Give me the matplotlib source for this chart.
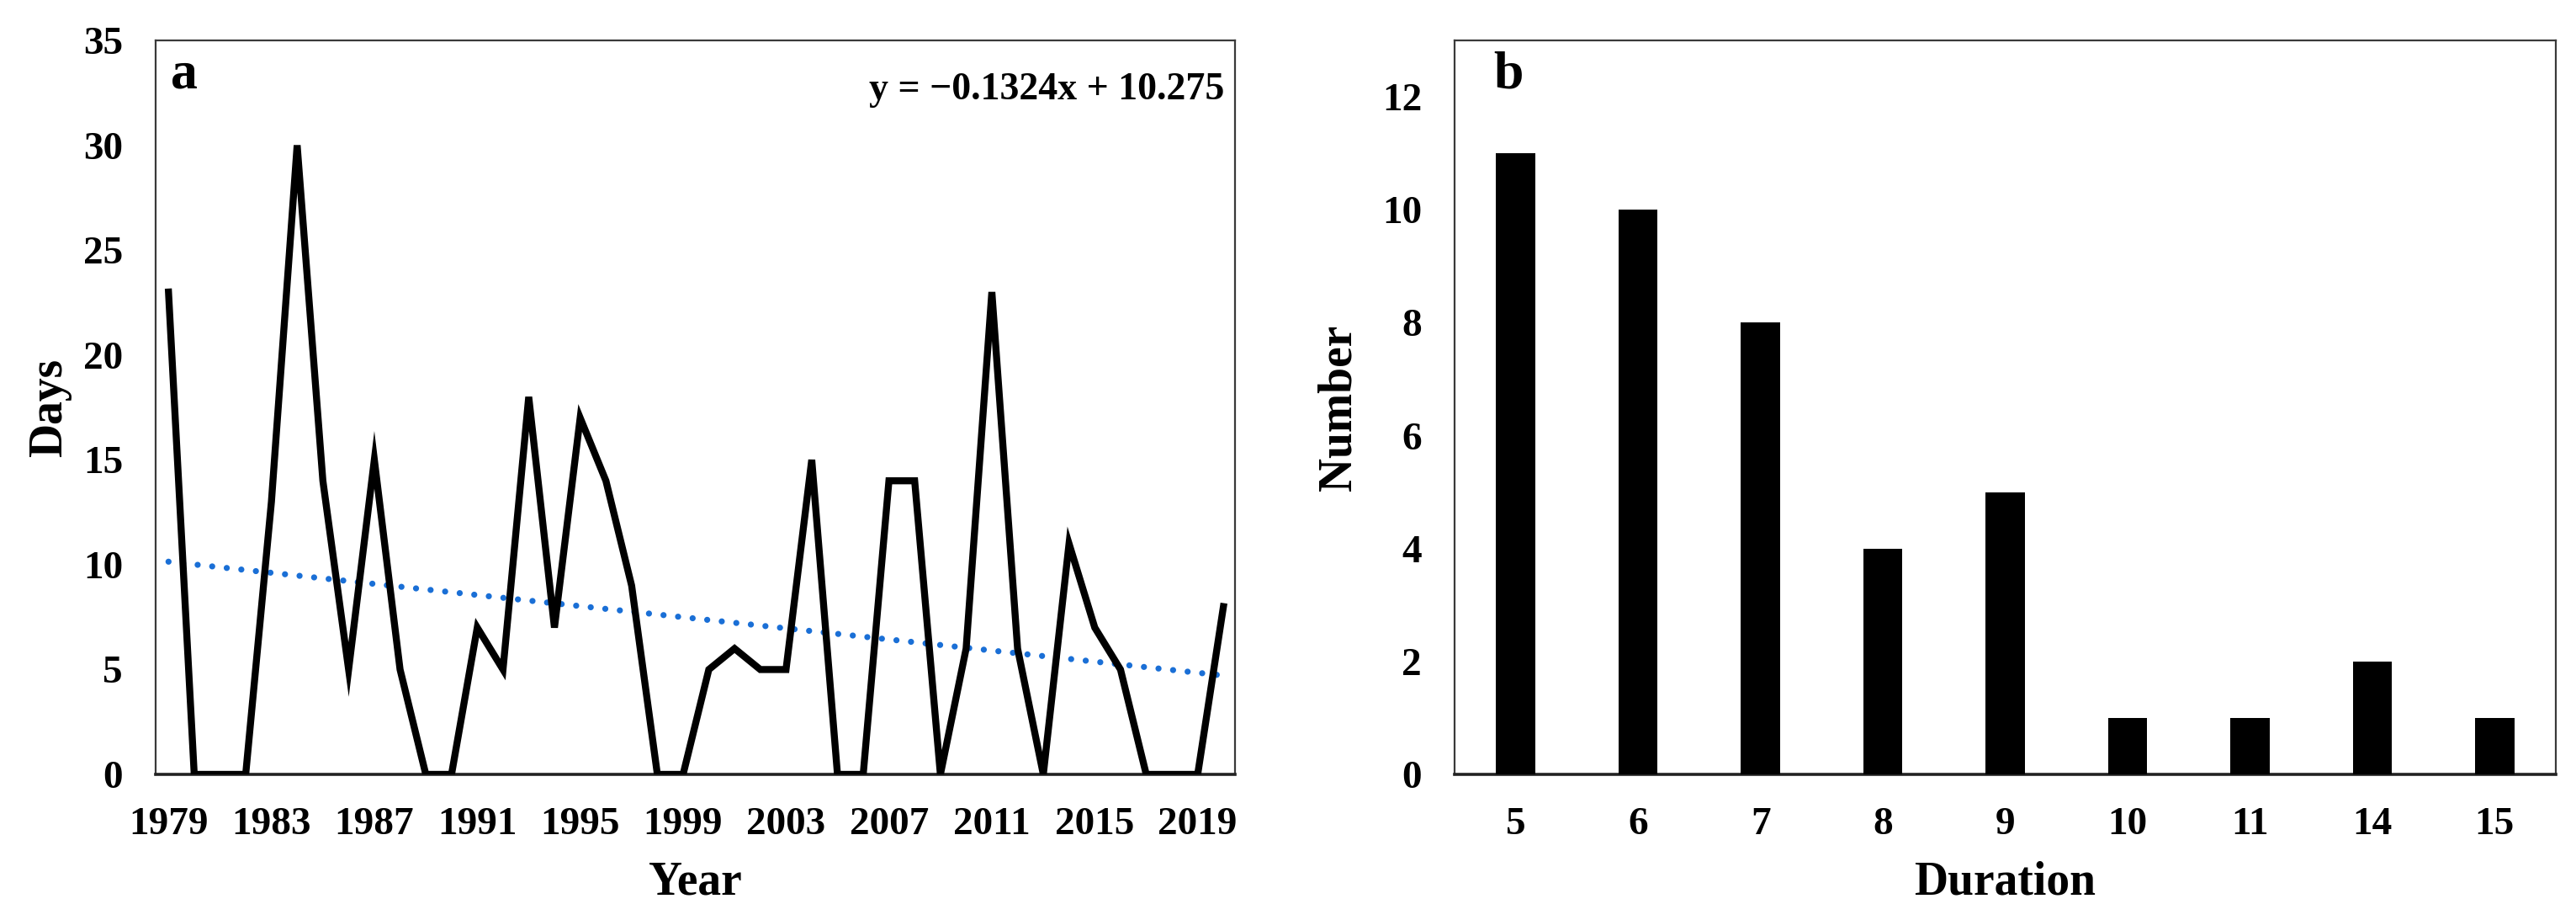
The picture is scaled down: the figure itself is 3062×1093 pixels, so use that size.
import numpy as np
import matplotlib
matplotlib.use("Agg")
import matplotlib.pyplot as plt

plt.rcParams['font.family'] = ['Liberation Serif', 'DejaVu Serif']
plt.rcParams['font.weight'] = 'bold'

# panel a: days per year
years = list(range(1979, 2021))
days = [23, 0, 0, 0, 13, 30, 14, 5, 15, 5,
        0, 0, 7, 5, 18, 7, 17, 14, 9, 0,
        0, 5, 6, 5, 5, 15, 0, 0, 14, 14,
        0, 6, 23, 6, 0, 11, 7, 5, 0, 0,
        0, 8]
trend_slope = -0.1324
trend_icept = 10.275
year_ticks = list(range(1979, 2020, 4))

# panel b: duration counts
durations = ['5', '6', '7', '8', '9', '10', '11', '14', '15']
counts = [11, 10, 8, 4, 5, 1, 1, 2, 1]

W, H = 3062, 1093
fig = plt.figure(figsize=(W / 100, H / 100), dpi=100)

ax1 = fig.add_axes([185 / W, 1 - 920 / H, (1468 - 185) / W, (920 - 48) / H])
ax2 = fig.add_axes([1729 / W, 1 - 920 / H, (3038 - 1729) / W, (920 - 48) / H])

tick_fs = 34
label_fs = 40
spine_col = '#3a3a3a'

# --- panel a ---
ax1.plot(years, days, color='black', lw=6, solid_joinstyle='miter', zorder=3)
idx = np.arange(1, len(years) + 1)
ax1.plot(years, trend_slope * idx + trend_icept, color='#1a6fd6', lw=5.2,
         linestyle=(0, (0.01, 2.4)), dash_capstyle='round', zorder=2)
ax1.set_xlim(1978.5, 2020.45)
ax1.set_ylim(0, 35)
ax1.set_xticks(year_ticks)
ax1.set_yticks(range(0, 36, 5))
ax1.set_xlabel('Year', fontsize=label_fs, fontweight='bold')
ax1.set_ylabel('Days', fontsize=label_fs, fontweight='bold')
ax1.xaxis.set_label_coords(0.5, -0.118)
ax1.yaxis.set_label_coords(-0.078, 0.5)
ax1.text(0.014, 0.935, 'a', transform=ax1.transAxes, fontsize=46,
         fontweight='bold', ha='left', va='baseline')
ax1.text(0.99, 0.92, 'y = \u22120.1324x + 10.275', transform=ax1.transAxes,
         fontsize=33, fontweight='bold', ha='right', va='baseline')

# --- panel b ---
xb = np.arange(len(durations))
ax2.bar(xb, counts, width=0.32, color='black', zorder=3)
ax2.set_xlim(-0.5, 8.5)
ax2.set_ylim(0, 13)
ax2.set_xticks(xb)
ax2.set_xticklabels(durations)
ax2.set_yticks(range(0, 13, 2))
ax2.set_xlabel('Duration', fontsize=label_fs, fontweight='bold')
ax2.set_ylabel('Number', fontsize=label_fs, fontweight='bold')
ax2.xaxis.set_label_coords(0.5, -0.118)
ax2.yaxis.set_label_coords(-0.085, 0.5)
ax2.text(0.035, 0.935, 'b', transform=ax2.transAxes, fontsize=46,
         fontweight='bold', ha='left', va='baseline')

for ax in (ax1, ax2):
    ax.tick_params(length=0, labelsize=tick_fs, pad=28)
    for lab in ax.get_xticklabels() + ax.get_yticklabels():
        lab.set_fontweight('bold')
    for sp in ax.spines.values():
        sp.set_color(spine_col)
        sp.set_linewidth(1.6)
    ax.spines['bottom'].set_color('#222222')
    ax.spines['bottom'].set_linewidth(2.6)

fig.savefig('out.png', dpi=100, facecolor='white')
